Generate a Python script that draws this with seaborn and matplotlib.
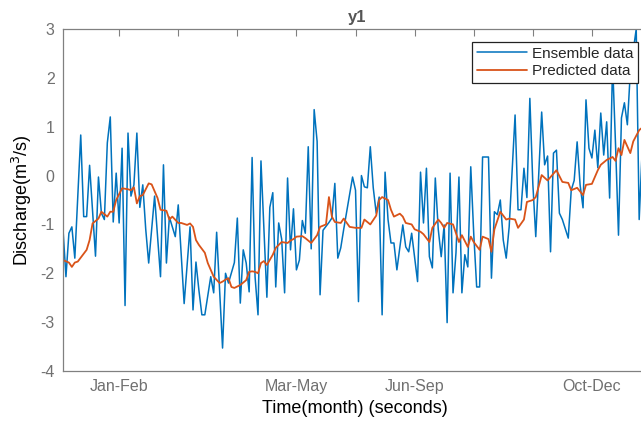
import numpy as np
import pandas as pd
import matplotlib
matplotlib.use('Agg')
import matplotlib.pyplot as plt
import seaborn as sns

# Values (x = sample number, y = discharge m3/s)

ens_t = [1, 2, 3, 4, 5, 7, 8, 9, 10, 12, 13, 14, 15, 16, 17, 18, 19, 20, 21, 22,
         23, 24, 25, 26, 27, 28, 29, 30, 32, 34, 35, 36, 37, 39, 40, 42, 44, 45, 46, 47,
         48, 49, 51, 52, 53, 55, 56, 57, 59, 60, 61, 62, 63, 64, 65, 66, 67, 68, 69, 70,
         71, 72, 73, 74, 75, 76, 77, 78, 79, 80, 81, 82, 83, 84, 85, 86, 87, 88, 89, 91,
         92, 93, 94, 95, 96, 99, 100, 101, 102, 103, 104, 105, 106, 107, 108, 109, 110, 111, 112, 113,
         114, 116, 117, 118, 119, 121, 122, 123, 124, 125, 126, 127, 128, 129, 130, 131, 132, 133, 134, 135,
         136, 137, 138, 139, 140, 141, 142, 143, 145, 146, 147, 148, 149, 150, 151, 152, 154, 155, 156, 157,
         158, 159, 160, 161, 163, 164, 165, 166, 167, 168, 169, 170, 172, 173, 174, 175, 176, 177, 178, 179,
         180, 181, 182, 183, 184, 185, 186, 187, 188, 189, 190, 191, 192, 193, 195, 196, 197]
ensemble = [-1.10, -2.07, -1.18, -1.05, -1.69, 0.83, -0.84, -0.84, 0.21, -1.65, -0.03, -0.77, -0.90, 0.67, 1.20, -0.95, 0.05, -0.97, 0.56, -2.66,
            0.87, -0.42, -0.19, 0.87, -0.65, -0.19, -1.10, -1.79, -0.42, -2.07, 0.22, -1.79, -0.85, -1.25, -0.60, -2.62, -1.05, -2.75, -1.77, -2.35,
            -2.85, -2.85, -2.07, -2.40, -1.16, -3.53, -2.00, -2.20, -1.78, -0.87, -2.61, -1.52, -1.79, -2.38, 0.37, -2.07, -2.85, 0.30, -1.10, -2.49,
            -0.65, -0.35, -2.28, -0.97, -1.30, -2.40, -0.05, -1.52, -0.68, -1.93, -1.73, -0.92, -1.18, 0.59, -1.50, 1.35, 0.70, -2.44, -1.12, -0.96,
            -0.87, -0.16, -1.69, -1.48, -1.10, -0.03, -0.30, -2.58, 0.00, -0.23, -0.25, 0.59, -0.25, -0.77, -0.44, -2.85, 0.07, -0.90, -1.38, -1.38,
            -1.93, -1.01, -1.46, -1.56, -1.18, -2.17, 0.07, -0.97, 0.15, -1.66, -1.89, -0.05, -1.10, -1.66, -1.01, -3.01, 0.05, -2.40, -1.58, -0.03,
            -2.40, -1.62, -1.87, 0.18, -1.18, -2.28, -2.28, 0.38, 0.38, -2.10, -0.74, -0.80, -0.50, -1.32, -1.69, -1.05, 1.24, -0.70, -0.70, 0.15,
            -0.45, 1.58, -0.16, -1.25, 1.30, 0.22, 0.40, -1.56, 0.46, 0.52, -0.77, -0.90, -1.28, -0.30, -0.10, 0.69, -0.19, -0.66, 1.55, 0.56,
            0.36, 0.93, 0.16, 1.28, 0.42, 1.10, -0.46, 2.30, 0.63, -1.22, 1.18, 1.49, 1.04, 2.12, 3.00, -0.90, 0.50]

pred_t = [1, 3, 4, 5, 6, 8, 9, 10, 11, 13, 14, 16, 17, 18, 19, 21, 23, 24, 25, 26,
          27, 28, 30, 31, 33, 34, 36, 37, 38, 40, 41, 43, 44, 45, 46, 47, 49, 50, 52, 54,
          55, 56, 57, 58, 59, 61, 63, 64, 65, 66, 67, 68, 69, 70, 72, 73, 74, 75, 77, 78,
          79, 80, 82, 83, 85, 86, 87, 88, 90, 91, 92, 93, 95, 96, 98, 100, 102, 103, 105, 107,
          108, 109, 111, 112, 113, 115, 116, 117, 119, 120, 122, 123, 125, 126, 128, 129, 130, 131, 133, 135,
          136, 138, 139, 140, 142, 143, 145, 146, 147, 149, 151, 152, 154, 155, 157, 158, 160, 161, 162, 163,
          165, 166, 168, 170, 172, 173, 175, 177, 178, 180, 182, 183, 185, 187, 188, 189, 190, 191, 193, 194,
          196, 197]
predicted = [-1.73, -1.78, -1.87, -1.78, -1.76, -1.60, -1.52, -1.32, -0.98, -0.88, -0.74, -0.84, -0.74, -0.74, -0.50, -0.26, -0.28, -0.30, -0.24, -0.57,
             -0.42, -0.40, -0.16, -0.18, -0.46, -0.70, -0.72, -0.90, -0.84, -0.97, -0.97, -1.01, -0.98, -1.05, -1.32, -1.42, -1.58, -1.79, -2.07, -2.20,
             -2.17, -2.13, -2.10, -2.28, -2.30, -2.24, -2.14, -1.97, -1.96, -1.97, -2.00, -1.79, -1.75, -1.83, -1.62, -1.48, -1.42, -1.36, -1.38, -1.33,
             -1.30, -1.25, -1.24, -1.28, -1.38, -1.30, -1.22, -1.05, -1.00, -0.44, -0.84, -0.95, -0.97, -0.88, -1.05, -1.07, -1.07, -0.90, -1.00, -0.82,
             -0.50, -0.44, -0.50, -0.70, -0.84, -0.78, -0.84, -0.97, -1.00, -1.10, -1.15, -1.20, -1.36, -1.07, -0.90, -0.97, -1.07, -0.97, -1.00, -1.36,
             -1.22, -1.46, -1.25, -1.36, -1.52, -1.25, -1.30, -1.56, -1.10, -0.74, -0.90, -0.88, -0.90, -1.07, -0.90, -0.54, -0.50, -0.44, -0.22, 0.01,
             -0.10, -0.03, 0.11, -0.13, -0.15, -0.30, -0.25, -0.40, -0.19, -0.17, 0.11, 0.22, 0.32, 0.38, 0.30, 0.56, 0.42, 0.73, 0.46, 0.70,
             0.93, 0.98]

tick_pos = [20, 40, 60, 80, 100, 120, 140, 160, 180, 200]
tick_lab = ['Jan-Feb', '', '', 'Mar-May', '', 'Jun-Sep', '', '', 'Oct-Dec', '']

df_ens = pd.DataFrame({'t': ens_t, 'q': ensemble})
df_pred = pd.DataFrame({'t': pred_t, 'q': predicted})

sns.set_style('white')
plt.rcParams['font.family'] = ['Liberation Sans', 'DejaVu Sans']
plt.rcParams['axes.unicode_minus'] = False

fig = plt.figure(figsize=(6.41, 4.23), dpi=100)
ax = fig.add_axes([63/641, 1 - 371/423, 588/641, 342/423])

sns.lineplot(data=df_ens, x='t', y='q', color='#0072BD', lw=1.1,
             label='Ensemble data', ax=ax, sort=False)
sns.lineplot(data=df_pred, x='t', y='q', color='#D95319', lw=1.3,
             label='Predicted data', ax=ax, sort=False)

ax.set_xlim(1, 200)
ax.set_ylim(-4, 3)
ax.set_xticks(tick_pos)
ax.set_xticklabels(tick_lab)
ax.set_yticks(range(-4, 4))

gray = '#808080'
for sp in ax.spines.values():
    sp.set_color(gray)
    sp.set_linewidth(0.9)
ax.tick_params(direction='in', length=5, width=0.8, color=gray,
               labelcolor='#707070', labelsize=11.5, top=True, right=True)
ax.tick_params(axis='x', pad=6)
ax.tick_params(axis='y', pad=6)

ax.set_title('y1', fontsize=12, fontweight='bold', color='#555555', pad=5)
ax.set_xlabel('Time(month) (seconds)', fontsize=13, color='black')
ax.set_ylabel('Discharge(m$^3$/s)', fontsize=13, color='black')
ax.xaxis.set_label_coords(0.497, -0.085)
ax.yaxis.set_label_coords(-0.05, 0.5)

leg = ax.legend(loc='upper right', bbox_to_anchor=(0.978, 0.962), borderaxespad=0,
                fontsize=11, frameon=True, fancybox=False, framealpha=1,
                edgecolor='#222222', handlelength=3.3, handletextpad=0.3,
                labelspacing=0.25, borderpad=0.3)
leg.get_frame().set_linewidth(0.9)

fig.savefig('out.png', dpi=100, facecolor='white')
